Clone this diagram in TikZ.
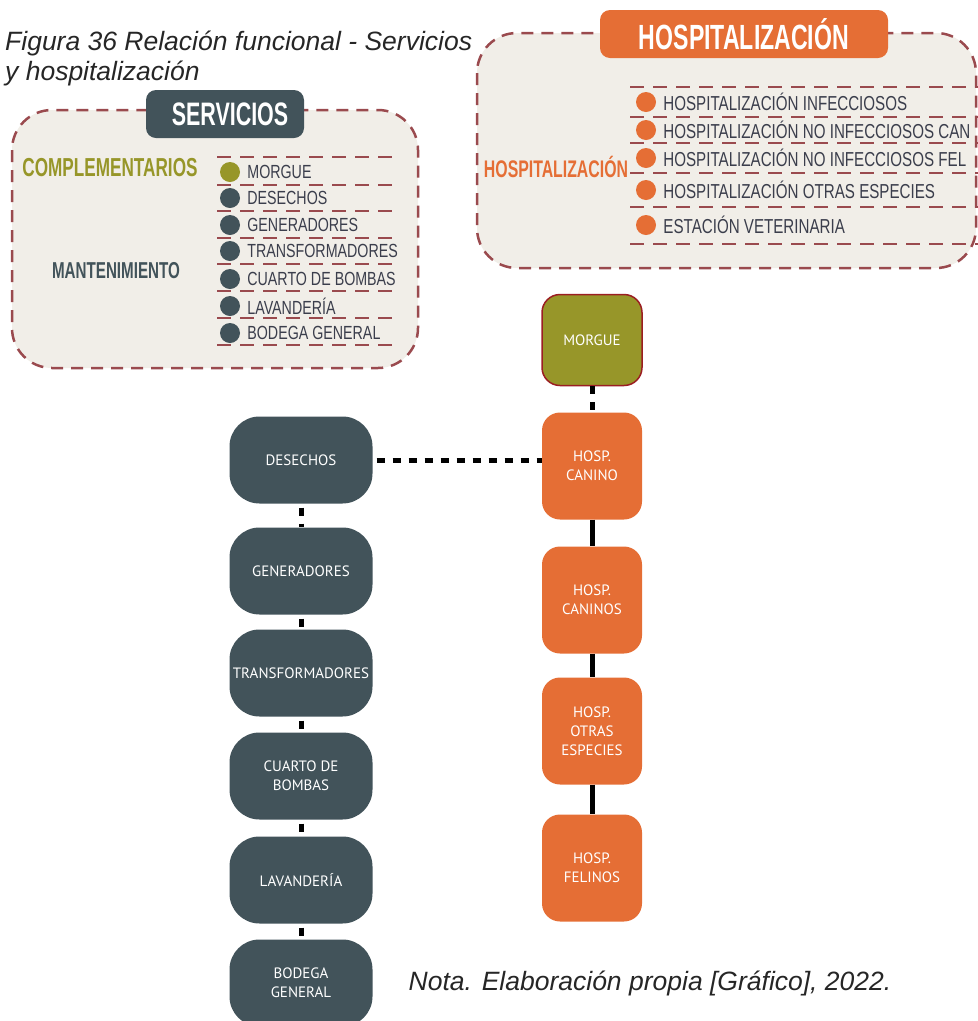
\documentclass[tikz,border=0pt]{standalone}
\usepackage{fontspec}
\setmainfont{Liberation Sans}
\newfontfamily\boxfont{PT Sans}
\newfontfamily\condfont[FakeStretch=0.75]{Liberation Sans}
\newfontfamily\headfont[FakeStretch=0.66]{Liberation Sans Bold}
\usetikzlibrary{shapes, arrows, positioning}
\definecolor{slate}{HTML}{42535A}
\definecolor{olivegr}{HTML}{979629}
\definecolor{hospor}{HTML}{E56E35}
\definecolor{panel}{HTML}{F1EEE8}
\definecolor{dashred}{HTML}{9A4A4E}
\definecolor{itemtext}{HTML}{3B3E4C}
\definecolor{morgueline}{HTML}{9B1E22}
\tikzstyle{panelbox} = [draw=dashred, fill=panel, line width=2.5pt, dash pattern=on 12pt off 8pt, rounded corners=40pt]
\tikzstyle{tab} = [rectangle, rounded corners=10pt, text=white, inner sep=0pt, minimum height=48pt, font=\headfont\fontsize{32.5}{34}\selectfont]
\tikzstyle{rowline} = [draw=dashred, line width=2pt, dash pattern=on 14pt off 9pt]
\tikzstyle{dot} = [circle, minimum size=20pt, inner sep=0pt]
\tikzstyle{entry} = [anchor=west, inner sep=0pt, text=itemtext, font=\condfont\fontsize{19}{21}\selectfont]
\tikzstyle{group} = [inner sep=0pt, font=\headfont\fontsize{26}{28}\selectfont]
\tikzstyle{servbox} = [rectangle, rounded corners=30pt, fill=slate, minimum width=143pt, minimum height=87pt, text=white, align=center, font=\boxfont\fontsize{15}{19}\selectfont]
\tikzstyle{hospbox} = [rectangle, rounded corners=18pt, fill=hospor, minimum width=100pt, minimum height=107pt, text=white, align=center, font=\boxfont\fontsize{15}{19}\selectfont]
\tikzstyle{dotlink} = [line width=5pt, dash pattern=on 8pt off 8pt]
\tikzstyle{link} = [line width=5pt]

\begin{document}
\begin{tikzpicture}[x=1pt, y=-1pt]
   \useasboundingbox (0,0) rectangle (978,1021);
   \clip (0,0) rectangle (978,1021);
   % caption
   \node (caption) [anchor=north west, align=left, inner sep=0pt, text=black!85, font=\itshape\fontsize{26.5}{30}\selectfont] at (5,31) {Figura 36 Relación funcional - Servicios\\y hospitalización};

   % servicios panel
   \draw [panelbox] (12,110) rectangle (418,368);
   \node (servtab) [tab, fill=slate, minimum width=158pt] at (225,114) {\hspace{10pt}SERVICIOS};
   \node (compl) [group, text=olivegr] at (110,168) {COMPLEMENTARIOS};
   \node (mant) [group, text=slate, font=\headfont\fontsize{23}{25}\selectfont] at (116,271) {MANTENIMIENTO};
   \foreach \y in {157,185,211,238,264,291,318,345}
      \draw [rowline] (217,\y) -- (398,\y);
   \foreach \y/\t/\c in {172/MORGUE/olivegr, 198/DESECHOS/slate, 225/GENERADORES/slate, 251/TRANSFORMADORES/slate, 279/CUARTO DE BOMBAS/slate, 306/LAVANDERÍA/slate, 333/BODEGA GENERAL/slate}{
      \node (sdot\y) [dot, fill=\c] at (230,\y) {};
      \node (sitem\y) [entry, right=7pt of sdot\y] {\t};
   }

   % hospitalizacion panel
   \draw [panelbox] (477,33) rectangle (976,268);
   \node (hosptab) [tab, fill=hospor, minimum width=288pt, font=\headfont\fontsize{35}{37}\selectfont] at (744,34) {HOSPITALIZACIÓN};
   \node (hospgr) [group, text=hospor, font=\headfont\fontsize{24}{26}\selectfont] at (556,167) {HOSPITALIZACIÓN};
   \foreach \y in {87,117,143,173,207,244}
      \draw [rowline] (630,\y) -- (978,\y);
   \foreach \y/\t in {102/HOSPITALIZACIÓN INFECCIOSOS, 130/HOSPITALIZACIÓN NO INFECCIOSOS CAN, 158/HOSPITALIZACIÓN NO INFECCIOSOS FEL, 190/HOSPITALIZACIÓN OTRAS ESPECIES, 225/ESTACIÓN VETERINARIA}{
      \node (hdot\y) [dot, fill=hospor] at (646,\y) {};
      \node (hitem\y) [entry, right=7pt of hdot\y, font=\condfont\fontsize{20.2}{22}\selectfont] {\t};
   }

   % relacion funcional
   \node (morgue) [hospbox, fill=olivegr, draw=morgueline, line width=1.5pt, minimum height=91pt] at (592,340) {MORGUE};
   \node (can1) [hospbox] at (592,466) {HOSP.\\CANINO};
   \node (can2) [hospbox] at (592,600) {HOSP.\\CANINOS};
   \node (otras) [hospbox] at (592,731) {HOSP.\\OTRAS\\ESPECIES};
   \node (fel) [hospbox] at (592,868) {HOSP.\\FELINOS};

   \node (des) [servbox] at (301,460) {DESECHOS};
   \node (gen) [servbox] at (301,571) {GENERADORES};
   \node (tra) [servbox] at (301,673) {TRANSFORMADORES};
   \node (cua) [servbox] at (301,776) {CUARTO DE\\BOMBAS};
   \node (lav) [servbox] at (301,880) {LAVANDERÍA};
   \node (bod) [servbox] at (301,983) {BODEGA\\GENERAL};

   \draw [dotlink] (morgue) -- (can1);
   \draw [dotlink, dash phase=-4pt] (des.east) -- (des.east -| can1.west);
   \draw [link] (can1) -- (can2);
   \draw [link] (can2) -- (otras);
   \draw [link] (otras) -- (fel);
   \draw [dotlink, dash phase=-4pt] (des) -- (gen);
   \draw [dotlink, dash phase=-4pt] (gen) -- (tra);
   \draw [dotlink, dash phase=-4pt] (tra) -- (cua);
   \draw [dotlink, dash phase=-4pt] (cua) -- (lav);
   \draw [dotlink, dash phase=-4pt] (lav) -- (bod);

   \node (nota) [inner sep=0pt, text=black!85, font=\itshape\fontsize{26.5}{30}\selectfont] at (650,983) {Nota. Elaboración propia [Gráfico], 2022.};
\end{tikzpicture}
\end{document}
